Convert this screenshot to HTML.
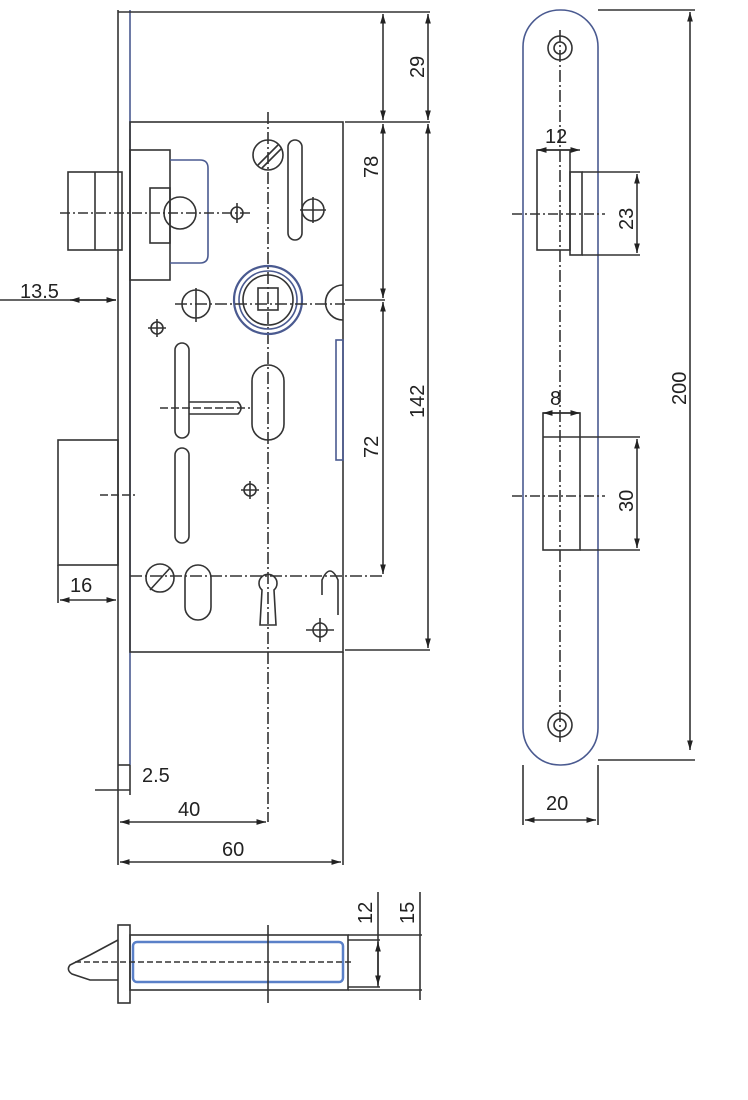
<!DOCTYPE html>
<html><head><meta charset="utf-8"><style>
html,body{margin:0;padding:0;background:#fff}
svg{display:block}
text{font-family:"Liberation Sans",sans-serif;font-size:20px;fill:#222}
</style></head><body>
<svg width="748" height="1100" viewBox="0 0 748 1100" xmlns="http://www.w3.org/2000/svg">
<defs>
<marker id="a" viewBox="0 0 10 10" refX="10" refY="5" markerWidth="6" markerHeight="6" orient="auto-start-reverse"><path d="M0,2 L10,5 L0,8z" fill="#222"/></marker>
</defs>
<g fill="none" stroke="#333" stroke-width="1.6">
<line x1="118" y1="10" x2="118" y2="790"/>
<line x1="130" y1="10" x2="130" y2="765" stroke="#4a5a90"/>
<line x1="118" y1="765" x2="130" y2="765"/>
<line x1="118" y1="12" x2="430" y2="12"/>
<rect x="130" y="122" width="213" height="530"/>
<line x1="345" y1="122" x2="430" y2="122"/>
<line x1="345" y1="650" x2="430" y2="650"/>
<line x1="345" y1="300" x2="385" y2="300"/>
<line x1="130" y1="576" x2="385" y2="576" stroke-dasharray="12 3 2 3"/>
<line x1="383" y1="14" x2="383" y2="120" marker-start="url(#a)" marker-end="url(#a)"/>
<line x1="383" y1="124" x2="383" y2="298" marker-start="url(#a)" marker-end="url(#a)"/>
<line x1="383" y1="302" x2="383" y2="574" marker-start="url(#a)" marker-end="url(#a)"/>
<line x1="428" y1="14" x2="428" y2="120" marker-start="url(#a)" marker-end="url(#a)"/>
<line x1="428" y1="124" x2="428" y2="648" marker-start="url(#a)" marker-end="url(#a)"/>
<rect x="68" y="172" width="54" height="78"/>
<line x1="95" y1="172" x2="95" y2="250"/>
<rect x="130" y="150" width="40" height="130"/>
<rect x="150" y="188" width="20" height="55"/>
<path d="M170 160 H200 Q208 160 208 168 V255 Q208 263 200 263 H170" stroke="#4a5a90"/>
<circle cx="180" cy="213" r="16"/>
<line x1="60" y1="213" x2="250" y2="213" stroke-dasharray="10 3 2 3"/>
<circle cx="237" cy="213" r="6"/><line x1="237" y1="203" x2="237" y2="223"/>
<line x1="0" y1="300" x2="116" y2="300"/>
<line x1="70" y1="300" x2="116" y2="300" marker-start="url(#a)" marker-end="url(#a)"/>
<line x1="268" y1="112" x2="268" y2="822" stroke-dasharray="12 3 2 3"/>
<circle cx="268" cy="155" r="15"/><line x1="258" y1="165" x2="278" y2="145"/><line x1="262" y1="168" x2="281" y2="149"/>
<rect x="288" y="140" width="14" height="100" rx="7"/>
<circle cx="313" cy="210" r="11"/><line x1="300" y1="210" x2="326" y2="210"/><line x1="313" y1="197" x2="313" y2="223"/>
<circle cx="268" cy="300" r="34" stroke="#4a5a90" stroke-width="2.2"/>
<circle cx="268" cy="300" r="29" stroke="#4a5a90"/>
<circle cx="268" cy="300" r="25"/>
<rect x="258" y="288" width="20" height="22"/>
<line x1="175" y1="304" x2="345" y2="304" stroke-dasharray="12 3 2 3"/>
<circle cx="196" cy="304" r="14"/><line x1="196" y1="288" x2="196" y2="322"/>
<path d="M343 285 A14 14 0 0 0 343 320"/>
<circle cx="157" cy="328" r="6"/><line x1="148" y1="328" x2="166" y2="328"/><line x1="157" y1="319" x2="157" y2="337"/>
<rect x="175" y="343" width="14" height="95" rx="7"/>
<rect x="175" y="448" width="14" height="95" rx="7"/>
<path d="M189 402 H238 Q244 408 238 414 H189"/>
<line x1="160" y1="408" x2="250" y2="408" stroke-dasharray="8 3"/>
<rect x="252" y="365" width="32" height="75" rx="16"/>
<circle cx="250" cy="490" r="6"/><line x1="241" y1="490" x2="259" y2="490"/><line x1="250" y1="481" x2="250" y2="499"/>
<rect x="336" y="340" width="7" height="120" stroke="#4a5a90"/>
<circle cx="160" cy="578" r="14"/><line x1="150" y1="590" x2="170" y2="568"/>
<rect x="185" y="565" width="26" height="55" rx="13"/>
<path d="M262 590 A9 9 0 1 1 274 590 L276 625 H260 Z"/>
<path d="M322 595 V580 Q330 562 338 580 V615"/>
<circle cx="320" cy="630" r="7"/><line x1="306" y1="630" x2="334" y2="630"/><line x1="320" y1="618" x2="320" y2="642"/>
<rect x="58" y="440" width="60" height="125"/>
<line x1="100" y1="495" x2="135" y2="495" stroke-dasharray="8 3"/>
<line x1="58" y1="565" x2="58" y2="603"/>
<line x1="60" y1="600" x2="116" y2="600" marker-start="url(#a)" marker-end="url(#a)"/>
<line x1="95" y1="790" x2="130" y2="790"/>
<line x1="130" y1="765" x2="130" y2="795"/>
<line x1="120" y1="822" x2="266" y2="822" marker-start="url(#a)" marker-end="url(#a)"/>
<line x1="118" y1="790" x2="118" y2="865"/>
<line x1="343" y1="652" x2="343" y2="865"/>
<line x1="120" y1="862" x2="341" y2="862" marker-start="url(#a)" marker-end="url(#a)"/>
<rect x="523" y="10" width="75" height="755" rx="37" stroke="#4a5a90"/>
<circle cx="560" cy="48" r="12"/><circle cx="560" cy="48" r="6"/>
<circle cx="560" cy="725" r="12"/><circle cx="560" cy="725" r="6"/>
<line x1="560" y1="30" x2="560" y2="745" stroke-dasharray="12 3 2 3"/>
<line x1="598" y1="10" x2="695" y2="10"/>
<line x1="598" y1="760" x2="695" y2="760"/>
<line x1="690" y1="12" x2="690" y2="750" marker-start="url(#a)" marker-end="url(#a)"/>
<line x1="523" y1="765" x2="523" y2="825"/><line x1="598" y1="765" x2="598" y2="825"/>
<line x1="525" y1="820" x2="596" y2="820" marker-start="url(#a)" marker-end="url(#a)"/>
<rect x="537" y="150" width="33" height="100"/>
<rect x="570" y="172" width="12" height="83"/>
<line x1="582" y1="172" x2="640" y2="172"/><line x1="582" y1="255" x2="640" y2="255"/>
<line x1="637" y1="174" x2="637" y2="253" marker-start="url(#a)" marker-end="url(#a)"/>
<line x1="537" y1="150" x2="580" y2="150" marker-start="url(#a)" marker-end="url(#a)"/>
<line x1="512" y1="214" x2="605" y2="214" stroke-dasharray="10 3 2 3"/>
<rect x="543" y="413" width="37" height="137"/>
<line x1="543" y1="437" x2="640" y2="437"/><line x1="580" y1="550" x2="640" y2="550"/>
<line x1="637" y1="439" x2="637" y2="548" marker-start="url(#a)" marker-end="url(#a)"/>
<line x1="543" y1="413" x2="580" y2="413" marker-start="url(#a)" marker-end="url(#a)"/>
<line x1="512" y1="496" x2="605" y2="496" stroke-dasharray="10 3 2 3"/>
<rect x="118" y="925" width="12" height="78"/>
<rect x="130" y="935" width="218" height="55"/>
<rect x="133" y="942" width="210" height="40" rx="4" stroke="#5a80c8" stroke-width="2.5"/>
<path d="M118 940 L90 955 L70 965 Q66 970 72 974 L90 980 H118"/>
<line x1="75" y1="962" x2="352" y2="962" stroke-dasharray="6 3"/>
<line x1="268" y1="925" x2="268" y2="1003"/>
<line x1="348" y1="940" x2="380" y2="940"/><line x1="348" y1="987" x2="380" y2="987"/>
<line x1="378" y1="892" x2="378" y2="987"/>
<line x1="378" y1="942" x2="378" y2="985" marker-start="url(#a)" marker-end="url(#a)"/>
<line x1="348" y1="935" x2="422" y2="935"/><line x1="348" y1="990" x2="422" y2="990"/>
<line x1="420" y1="892" x2="420" y2="1000"/>
</g>
<text x="20" y="298" font-size="19">13.5</text>
<text x="70" y="592">16</text>
<text x="142" y="782">2.5</text>
<text x="178" y="816">40</text>
<text x="222" y="856">60</text>
<text x="546" y="810">20</text>
<text x="545" y="143">12</text>
<text x="550" y="405">8</text>
<g>
<text transform="translate(424,78) rotate(-90)">29</text>
<text transform="translate(378,178) rotate(-90)">78</text>
<text transform="translate(424,418) rotate(-90)">142</text>
<text transform="translate(378,458) rotate(-90)">72</text>
<text transform="translate(686,405) rotate(-90)">200</text>
<text transform="translate(633,230) rotate(-90)">23</text>
<text transform="translate(633,512) rotate(-90)">30</text>
<text transform="translate(372,924) rotate(-90)">12</text>
<text transform="translate(414,924) rotate(-90)">15</text>
</g>
</svg>
</body></html>
